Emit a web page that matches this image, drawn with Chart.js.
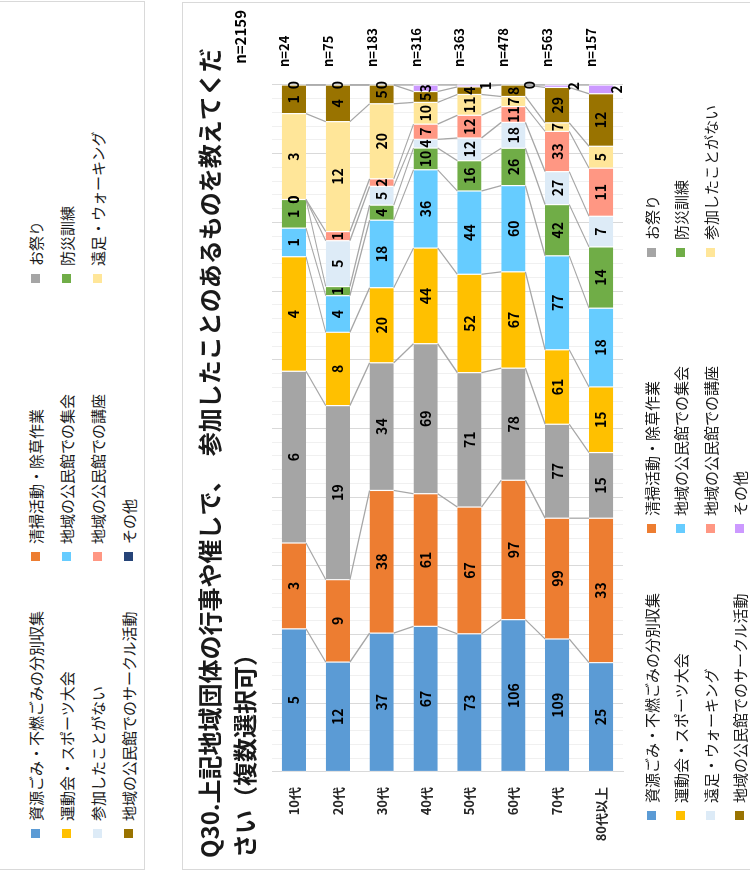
<!DOCTYPE html>
<html lang="ja">
<head>
<meta charset="utf-8">
<title>Q30 地域団体の行事や催し</title>
<script src="https://cdn.jsdelivr.net/npm/chart.js@4.4.1/dist/chart.umd.min.js"></script>
<style>
  html, body { margin:0; padding:0; background:#fff; overflow:hidden; }
  body { width:750px; height:872px; position:relative; font-family:"Noto Sans CJK JP","Noto Sans",sans-serif; }
  /* sheet is laid out landscape (872x750) and turned a quarter to the left */
  #sheet { position:absolute; left:0; top:0; width:872px; height:750px; transform-origin:0 0; transform:translate(0,872px) rotate(-90deg); }
  .box { position:absolute; border:1px solid #d9d9d9; box-sizing:border-box; background:#fff; }
  #topBox { left:2px; top:-2px; width:869px; height:147px; }
  #chartBox { left:2px; top:182px; width:868px; height:620px; }
  #chart { position:absolute; left:2px; top:182px; }
  .legend { position:absolute; display:grid; font-size:15px; color:#1a1a1a; align-items:center; }
  .legend .item { display:flex; align-items:center; white-space:nowrap; }
  .legend .swatch { width:9px; height:9px; margin-right:8px; flex:none; }
  #topLegend { left:34px; top:20px; grid-template-columns:277px 278px 260px; grid-auto-rows:31px; }
  #chartLegend { left:52px; top:637px; grid-template-columns:287px 276px 240px; grid-auto-rows:29.3px; }
</style>
</head>
<body>
<div id="sheet">
  <div class="box" id="topBox"></div>
  <div class="legend" id="topLegend"></div>
  <div class="box" id="chartBox"></div>
  <canvas id="chart" width="868" height="568"></canvas>
  <div class="legend" id="chartLegend"></div>
</div>
<script>
'use strict';

const titleLines = ['Q30.上記地域団体の行事や催しで、　参加したことのあるものを教えてくだ', 'さい（複数選択可）'];
const totalLabel = 'n=2159';

const ageGroups   = ['10代', '20代', '30代', '40代', '50代', '60代', '70代', '80代以上'];
const respondents = [24, 75, 183, 316, 363, 478, 563, 157];

// counts per age group, in stacking order (left to right)
const recycling   = [5, 12, 37, 67, 73, 106, 109, 25];
const cleanup     = [3, 9, 38, 61, 67, 97, 99, 33];
const festival    = [6, 19, 34, 69, 71, 78, 77, 15];
const sportsDay   = [4, 8, 20, 44, 52, 67, 61, 15];
const hallMeeting = [1, 4, 18, 36, 44, 60, 77, 18];
const drill       = [1, 1, 4, 10, 16, 26, 42, 14];
const hiking      = [0, 5, 5, 4, 12, 18, 27, 7];
const hallLecture = [0, 1, 2, 7, 12, 11, 33, 11];
const neverJoined = [3, 12, 20, 10, 11, 7, 7, 5];
const hallCircle  = [1, 4, 5, 5, 4, 8, 29, 12];
const other       = [0, 0, 0, 3, 1, 0, 2, 2];

const seriesNames = [
  '資源ごみ・不燃ごみの分別収集', '清掃活動・除草作業', 'お祭り',
  '運動会・スポーツ大会', '地域の公民館での集会', '防災訓練',
  '遠足・ウォーキング', '地域の公民館での講座', '参加したことがない',
  '地域の公民館でのサークル活動', 'その他'
];
const seriesValues = [recycling, cleanup, festival, sportsDay, hallMeeting, drill, hiking, hallLecture, neverJoined, hallCircle, other];
const seriesColors = ['#5b9bd5', '#ed7d31', '#a5a5a5', '#ffc000', '#66ccff', '#70ad47', '#ddebf7', '#ff9783', '#ffe699', '#997300', '#cc99ff'];

// the separate legend panel above the chart
const panelNames = [
  '資源ごみ・不燃ごみの分別収集', '清掃活動・除草作業', 'お祭り',
  '運動会・スポーツ大会', '地域の公民館での集会', '防災訓練',
  '参加したことがない', '地域の公民館での講座', '遠足・ウォーキング',
  '地域の公民館でのサークル活動', 'その他'
];
const panelColors = ['#5b9bd5', '#ed7d31', '#a5a5a5', '#ffc000', '#66ccff', '#70ad47', '#ddebf7', '#ff9783', '#ffe699', '#997300', '#264478'];

const FONT = '"Noto Sans CJK JP", "Noto Sans", sans-serif';
Chart.defaults.font.family = FONT;

function fillLegend(el, names, colors) {
  el.innerHTML = names.map((n, i) =>
    `<div class="item"><span class="swatch" style="background:${colors[i]}"></span>${n}</div>`).join('');
}
fillLegend(document.getElementById('topLegend'), panelNames, panelColors);
fillLegend(document.getElementById('chartLegend'), seriesNames, seriesColors);

/* connector lines between neighbouring bars */
const seriesLines = {
  id: 'seriesLines',
  afterDatasetsDraw(chart) {
    const ctx = chart.ctx;
    ctx.save();
    ctx.strokeStyle = '#a6a6a6';
    ctx.lineWidth = 1.25;
    chart.data.datasets.forEach((ds, k) => {
      const bars = chart.getDatasetMeta(k).data;
      for (let i = 0; i < bars.length - 1; i++) {
        const a = bars[i], b = bars[i + 1];
        ctx.beginPath();
        ctx.moveTo(a.x, a.y + a.height / 2);
        ctx.lineTo(b.x, b.y - b.height / 2);
        ctx.stroke();
      }
    });
    ctx.restore();
  }
};

/* count inside each segment */
const segmentLabels = {
  id: 'segmentLabels',
  afterDatasetsDraw(chart) {
    const ctx = chart.ctx;
    const last = chart.data.datasets.length - 1;
    ctx.save();
    ctx.font = `bold 14px ${FONT}`;
    ctx.fillStyle = '#000';
    ctx.textAlign = 'center';
    ctx.textBaseline = 'middle';
    chart.data.datasets.forEach((ds, k) => {
      chart.getDatasetMeta(k).data.forEach((bar, i) => {
        const dy = (k === last && i >= 4) ? 16 : 0;   // その他 labels pushed beside the bar
        ctx.fillText(String(ds.counts[i]), (bar.x + bar.base) / 2, bar.y + dy);
      });
    });
    ctx.restore();
  }
};

/* title (drawn by hand so it is not squeezed to the plot width), n= labels */
const textBlocks = {
  id: 'textBlocks',
  afterDraw(chart) {
    const {ctx, chartArea} = chart;
    const yScale = chart.scales.y;
    ctx.save();
    ctx.fillStyle = '#1a1a1a';
    ctx.textBaseline = 'middle';
    ctx.textAlign = 'left';
    ctx.font = `bold 24px ${FONT}`;
    titleLines.forEach((line, i) => ctx.fillText(line, 12, 28 + i * 35));

    ctx.fillStyle = '#000';
    ctx.font = `bold 13px ${FONT}`;
    respondents.forEach((n, i) => {
      ctx.fillText('n=' + n, chartArea.right + 18, yScale.getPixelForValue(i) - 10);
    });
    ctx.textAlign = 'right';
    ctx.font = `bold 15px ${FONT}`;
    ctx.fillText(totalLabel, chart.width - 8, 58);
    ctx.restore();
  }
};

const datasets = seriesValues.map((vals, k) => ({
  label: seriesNames[k],
  counts: vals,
  data: vals.map((v, i) => v / respondents[i] * 100),
  backgroundColor: seriesColors[k],
  borderColor: '#ffffff',
  borderWidth: { left: 0.6, right: 0.6, top: 0, bottom: 0 },
  borderSkipped: false,
  barPercentage: 0.55,
  categoryPercentage: 1
}));

new Chart(document.getElementById('chart'), {
  type: 'bar',
  data: { labels: ageGroups, datasets },
  options: {
    indexAxis: 'y',
    responsive: false,
    animation: false,
    layout: { padding: { left: 12, right: 83, top: 90, bottom: 127 } },
    plugins: {
      legend: { display: false },
      tooltip: { enabled: false },
      title: { display: false }
    },
    scales: {
      x: {
        stacked: true, min: 0, max: 100,
        ticks: { display: false, stepSize: 2 },
        grid: { color: c => (c.tick && c.tick.value % 10 === 0) ? '#d9d9d9' : '#f0f0f0', drawTicks: false },
        border: { display: false },
        afterFit: s => { s.height = 0; }
      },
      y: {
        stacked: true,
        ticks: { font: { size: 13, weight: 'bold' }, color: '#262626', padding: 15 },
        grid: { drawOnChartArea: false, drawTicks: false },
        border: { color: '#d9d9d9' },
        afterFit: s => { s.width = 86; }
      }
    }
  },
  plugins: [seriesLines, segmentLabels, textBlocks]
});
</script>
</body>
</html>
